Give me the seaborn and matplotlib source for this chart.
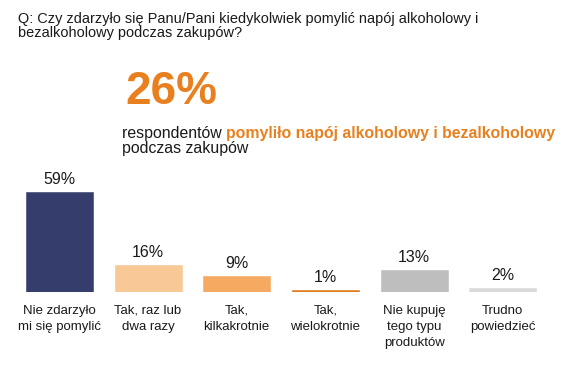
import matplotlib
matplotlib.use("Agg")
import matplotlib.pyplot as plt
import seaborn as sns
import pandas as pd

# data
categories = [
    "Nie zdarzyło\nmi się pomylić",
    "Tak, raz lub\ndwa razy",
    "Tak,\nkilkakrotnie",
    "Tak,\nwielokrotnie",
    "Nie kupuję\ntego typu\nproduktów",
    "Trudno\npowiedzieć",
]
values = [59, 16, 9, 1, 13, 2]
bar_colors = ["#343D6B", "#F9C897", "#F6AA61", "#E07B1F", "#BEBEBE", "#D9D9D9"]

question = [
    "Q: Czy zdarzyło się Panu/Pani kiedykolwiek pomylić napój alkoholowy i",
    "bezalkoholowy podczas zakupów?",
]
headline = "26%"
sub_plain = "respondentów "
sub_bold = "pomyliło napój alkoholowy i bezalkoholowy"
sub_line2 = "podczas zakupów"

ORANGE = "#E8801F"
TEXT = "#1A1A1A"

sns.set_style("white")
plt.rcParams["font.family"] = ["Liberation Sans", "DejaVu Sans"]

df = pd.DataFrame({"cat": categories, "val": values})

fig = plt.figure(figsize=(5.65, 3.74), dpi=100)
ax = fig.add_axes([0.0265, 0.22, 0.942, 0.3172])

sns.barplot(data=df, x="cat", y="val", hue="cat", palette=bar_colors,
            width=0.755, legend=False, saturation=1, ax=ax)
for patch, c in zip(ax.patches, bar_colors):
    patch.set_edgecolor(c)
    patch.set_linewidth(0.4)
ax.set_xlim(-0.5, len(categories) - 0.5)
ax.set_ylim(0, 70)

for i, v in enumerate(values):
    ax.annotate(f"{v}%", xy=(i, v), xytext=(0, 5.8), textcoords="offset points",
                ha="center", va="baseline", fontsize=11.5, color=TEXT)

ax.set_xlabel("")
ax.set_ylabel("")
ax.set_yticks([])
ax.tick_params(axis="x", length=0, pad=9.4, labelsize=9.5, labelcolor=TEXT)
for lbl in ax.get_xticklabels():
    lbl.set_linespacing(1.45)
sns.despine(ax=ax, left=True, bottom=True)

# question text
fig.text(18 / 565, 1 - 23.3 / 374, question[0], fontsize=10.45, color=TEXT,
         ha="left", va="baseline")
fig.text(18 / 565, 1 - 37.3 / 374, question[1], fontsize=10.45, color=TEXT,
         ha="left", va="baseline")

# headline
fig.text(125 / 565, 1 - 104 / 374, headline, fontsize=33, fontweight="bold",
         color=ORANGE, ha="left", va="baseline")

t1 = fig.text(122 / 565, 1 - 138.3 / 374, sub_plain, fontsize=11.4, color=TEXT,
              ha="left", va="baseline")
ax.annotate(sub_bold, xy=(1, 0), xycoords=t1, ha="left", va="bottom",
            fontsize=11.4, fontweight="bold", color=ORANGE)
fig.text(122 / 565, 1 - 153.5 / 374, sub_line2, fontsize=11.4, color=TEXT,
         ha="left", va="baseline")

fig.savefig("out.png", dpi=100)
